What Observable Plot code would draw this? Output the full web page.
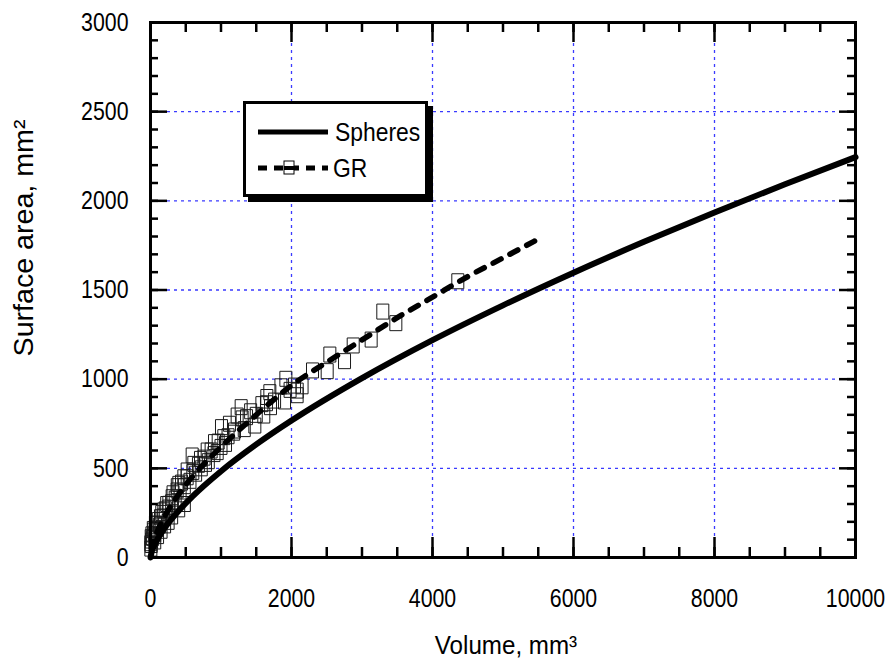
<!DOCTYPE html>
<html>
<head>
<meta charset="utf-8">
<script src="https://cdn.jsdelivr.net/npm/d3@7"></script>
<script src="https://cdn.jsdelivr.net/npm/@observablehq/plot@0.6"></script>
<style>
  html, body { margin: 0; padding: 0; background: #fff; }
  #wrap { position: relative; width: 894px; height: 662px; font-family: "Liberation Sans", Arial, sans-serif; }
  #legend { position: absolute; left: 243px; top: 101px; width: 179px; height: 90px;
    border: 3px solid #000; background: #fff; box-shadow: 5px 5px 0 #000; }
  #legend svg { position: absolute; left: 0; top: 0; }
</style>
</head>
<body>
<div id="wrap"></div>
<script>
// Sphere curve
const sphereVolume = [0, 20, 50, 100, 200, 400, 600, 1000, 1500, 2000, 3000, 4000, 5000, 6000, 7000, 8000, 9000, 10000];
const sphereArea   = [0, 36, 66, 104, 165, 262, 344, 484, 634, 768, 1006, 1219, 1414, 1597, 1770, 1935, 2093, 2245];

// GR fitted dashed line
const grFitVolume = [10, 50, 100, 200, 400, 700, 1000, 1500, 2000, 2500, 3000, 3500, 4000, 4500, 5000, 5450];
const grFitArea   = [40, 100, 150, 230, 355, 500, 620, 800, 965, 1095, 1220, 1345, 1460, 1575, 1680, 1775];

// GR measured points (squares)
const grVolume = [4359, 3295, 3480, 3130, 2875, 2752, 2544, 2506, 2298, 1920, 1901, 2081, 2043, 1693, 1645, 1702, 1607, 1480,
  1286, 1229, 1362, 1191, 1007, 1040, 1064, 908, 946, 804, 591, 709, 615, 780, 520, 473, 402, 378, 307, 260, 189, 142, 95, 47, 10, 5,
  5, 10, 15, 20, 30, 40, 60, 70, 90, 110, 130, 160, 180, 210, 230, 260, 300, 320, 350, 380, 420, 440, 480, 520, 560, 600, 640, 680,
  720, 760, 820, 860, 900, 960, 1000, 1100, 1120, 1180, 1300, 1330, 1420, 1500, 1580, 1650, 1760, 1850, 1980, 2080, 2150,
  200, 300, 400, 480, 150, 100, 60, 250];
const grArea = [1549, 1379, 1314, 1222, 1189, 1101, 1138, 1045, 1049, 1002, 875, 936, 964, 927, 865, 843, 796, 740,
  843, 796, 787, 712, 731, 675, 637, 647, 591, 600, 572, 553, 525, 525, 488, 450, 413, 376, 338, 301, 264, 226, 189, 151, 114, 80,
  50, 70, 95, 130, 110, 160, 130, 190, 160, 210, 180, 250, 230, 270, 300, 280, 310, 360, 330, 400, 370, 420, 400, 450, 430, 480, 470, 520,
  500, 560, 540, 600, 580, 650, 620, 680, 750, 700, 780, 720, 820, 800, 860, 900, 880, 960, 940, 910, 960,
  180, 230, 270, 300, 150, 120, 90, 200];

const xMajor = [0, 2000, 4000, 6000, 8000, 10000];
const xMinor = d3.range(0, 10001, 500);
const yMajor = [0, 500, 1000, 1500, 2000, 2500, 3000];
const yMinor = d3.range(0, 3001, 100);
const xGrid = [2000, 4000, 6000, 8000];
const yGrid = [500, 1000, 1500, 2000, 2500];
const xTitle = "Volume, mm\u00B3";
const yTitle = "Surface area, mm\u00B2";

const spheres = sphereVolume.map((v, i) => ({v, s: sphereArea[i]}));
const grFit = grFitVolume.map((v, i) => ({v, s: grFitArea[i]}));
const grPts = grVolume.map((v, i) => ({v, s: grArea[i]}));

const rectSymbol = { draw(ctx) { ctx.rect(-6, -7.5, 12, 15); } };

const W = 894, H = 662, mL = 150, mR = 39, mT = 22, mB = 105;
const fw = W - mL - mR, fh = H - mT - mB;
const blue = "#3a3aff";
const FONT = "'Liberation Sans', Arial, sans-serif";

const chart = Plot.plot({
  width: W, height: H,
  marginLeft: mL, marginRight: mR, marginTop: mT, marginBottom: mB,
  style: { fontFamily: FONT, fontSize: "26px", color: "#000", background: "#fff" },
  x: { domain: [0, 10000] },
  y: { domain: [0, 3000] },
  marks: [
    Plot.gridX(xGrid, { stroke: blue, strokeOpacity: 1, strokeWidth: 1.3, strokeDasharray: "3,4", insetTop: 21, insetBottom: 21 }),
    Plot.gridY(yGrid, { stroke: blue, strokeOpacity: 1, strokeWidth: 1.3, strokeDasharray: "3,4", insetLeft: 17, insetRight: 16 }),
    // inward ticks
    Plot.tickX(xMajor, { x: d => d, insetTop: fh - 20, strokeWidth: 2.5 }),
    Plot.tickX(xMajor, { x: d => d, insetBottom: fh - 20, strokeWidth: 2.5 }),
    Plot.tickX(xMinor, { x: d => d, insetTop: fh - 10, strokeWidth: 2.5 }),
    Plot.tickX(xMinor, { x: d => d, insetBottom: fh - 10, strokeWidth: 2.5 }),
    Plot.tickY(yMajor, { y: d => d, insetRight: fw - 17, strokeWidth: 2.5 }),
    Plot.tickY(yMajor, { y: d => d, insetLeft: fw - 16, strokeWidth: 2.5 }),
    Plot.tickY(yMinor, { y: d => d, insetRight: fw - 8, strokeWidth: 2.5 }),
    Plot.tickY(yMinor, { y: d => d, insetLeft: fw - 8, strokeWidth: 2.5 }),
    Plot.axisX(xMajor, { tickSize: 0, tickPadding: 31, tickFormat: d3.format("d"), label: null, fontSize: 26 }),
    Plot.axisY(yMajor, { tickSize: 0, tickPadding: 22, tickFormat: d3.format("d"), label: null, fontSize: 26 }),
    Plot.dot(grPts, { x: "v", y: "s", symbol: rectSymbol, stroke: "#1a1a1a", strokeWidth: 1, fill: "none" }),
    Plot.line(grFit, { x: "v", y: "s", stroke: "#000", strokeWidth: 5.5, strokeDasharray: "9,10", strokeLinecap: "round", curve: "monotone-x" }),
    Plot.line(spheres, { x: "v", y: "s", stroke: "#000", strokeWidth: 6, curve: "monotone-x" }),
    Plot.frame({ stroke: "#000", strokeWidth: 3 }),
    Plot.text([xTitle], { frameAnchor: "bottom", dx: 3, dy: 88, lineAnchor: "middle", textAnchor: "middle", fontSize: 26, text: d => d }),
    Plot.text([yTitle], { frameAnchor: "left", dx: -126, dy: -52, rotate: -90, lineAnchor: "middle", textAnchor: "middle", fontSize: 27, text: d => d })
  ]
});

// condense / stretch text horizontally (styling only)
function condense(selection, s) {
  selection.each(function () {
    const el = this;
    let t = el.getAttribute("transform");
    if (!t) {
      const x = +(el.getAttribute("x") || 0), y = +(el.getAttribute("y") || 0);
      el.removeAttribute("x"); el.removeAttribute("y");
      t = `translate(${x},${y})`;
    }
    el.setAttribute("transform", `${t} scale(${s},1)`);
  });
}
const svg = d3.select(chart);
condense(svg.selectAll("g[aria-label='x-axis tick label'] text"), 0.82);
condense(svg.selectAll("g[aria-label='y-axis tick label'] text"), 0.82);
condense(svg.selectAll("text").filter(function () { return this.textContent === xTitle; }), 0.93);
condense(svg.selectAll("text").filter(function () { return this.textContent === yTitle; }), 1.06);

document.getElementById("wrap").appendChild(chart);

// legend
const legend = document.createElement("div");
legend.id = "legend";
legend.innerHTML = `
<svg width="179" height="90" xmlns="http://www.w3.org/2000/svg" font-family="Liberation Sans, Arial, sans-serif" font-size="26">
  <line x1="12" x2="82" y1="28" y2="28" stroke="#000" stroke-width="5"/>
  <text transform="translate(89,37) scale(0.88,1)" fill="#000">Spheres</text>
  <line x1="12" x2="82" y1="64" y2="64" stroke="#000" stroke-width="5" stroke-dasharray="9,7"/>
  <rect x="38" y="57" width="10" height="13" fill="#fff" stroke="#000" stroke-width="1"/>
  <line x1="38" x2="48" y1="64" y2="64" stroke="#000" stroke-width="4"/>
  <text transform="translate(87,73) scale(0.88,1)" fill="#000">GR</text>
</svg>`;
document.getElementById("wrap").appendChild(legend);
</script>
</body>
</html>
